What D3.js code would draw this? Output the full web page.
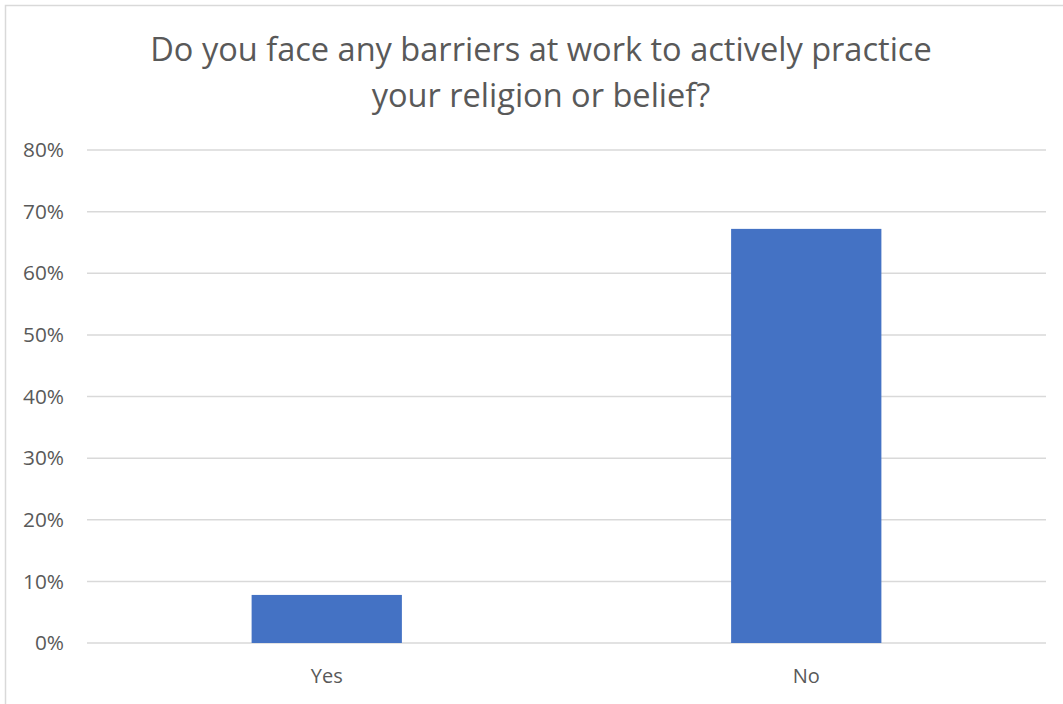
<!DOCTYPE html>
<html><head><meta charset="utf-8">
<script src="https://cdn.jsdelivr.net/npm/d3@7"></script>
<style>body{margin:0;background:#fff}svg{display:block}text{font-family:"Open Sans",sans-serif}</style>
</head><body>
<svg id="chart" width="1063" height="704"></svg>
<script>
const categories = ["Yes", "No"];
const values = [0.078, 0.672];
const yTicks = [0, 0.1, 0.2, 0.3, 0.4, 0.5, 0.6, 0.7, 0.8];
const titleLines = ["Do you face any barriers at work to actively practice", "your religion or belief?"];

(function(){
const svg = d3.select("#chart");
const W = 1063, H = 704;
const pL = 87, pR = 1046, pT = 150, pB = 643;
const FONT = "'Open Sans', sans-serif";

// size a font so that a sample string has a target width
function fitSize(sample, targetW, base) {
  const t = svg.append("text").attr("font-family", FONT).attr("font-size", base).text(sample);
  const w = t.node().getComputedTextLength();
  t.remove();
  return base * targetW / w;
}

// chart border
svg.append("rect").attr("x", 5.5).attr("y", 5.5).attr("width", W + 10).attr("height", H + 10)
  .attr("fill", "#fff").attr("stroke", "#d9d9d9").attr("stroke-width", 1.5);

const x = d3.scaleBand().domain(categories).range([pL, pR]).paddingInner(0.6866).paddingOuter(0.3433);
const xc = d3.scaleBand().domain(categories).range([pL, pR]).padding(0);
const y = d3.scaleLinear().domain([0, 0.8]).range([pB, pT]);

// gridlines
svg.append("g").selectAll("line").data(yTicks).join("line")
  .attr("x1", pL).attr("x2", pR)
  .attr("y1", d => y(d)).attr("y2", d => y(d))
  .attr("stroke", "#d9d9d9").attr("stroke-width", 1.5);

const tickSize = fitSize("80%", 41, 20);
const catSize = fitSize("Yes", 32, 20);
const titleSize = fitSize(titleLines[0], 782, 30);

// y axis labels
const yAxis = d3.axisLeft(y).tickValues(yTicks).tickFormat(d3.format(".0%")).tickSize(0).tickPadding(0);
const ga = svg.append("g").attr("transform", `translate(${64},0)`).call(yAxis);
ga.select(".domain").remove();
ga.selectAll("text").attr("font-size", tickSize).attr("fill", "#595959").attr("font-family", FONT);

// bars
svg.append("g").selectAll("rect").data(categories).join("rect")
  .attr("x", d => x(d)).attr("width", x.bandwidth())
  .attr("y", (d, i) => y(values[i])).attr("height", (d, i) => y(0) - y(values[i]))
  .attr("fill", "#4472c4");

// x axis labels
const xAxis = d3.axisBottom(xc).tickSize(0).tickPadding(0);
const gx = svg.append("g").attr("transform", `translate(0,${683})`).call(xAxis);
gx.select(".domain").remove();
gx.selectAll("text").attr("font-size", catSize).attr("fill", "#595959").attr("font-family", FONT)
  .attr("dy", null).attr("y", 0);

// title
svg.append("g").selectAll("text").data(titleLines).join("text")
  .attr("x", 541).attr("y", (d, i) => 61 + i * 46)
  .attr("text-anchor", "middle").attr("font-size", titleSize).attr("fill", "#595959").attr("font-family", FONT)
  .text(d => d);
})();
</script>
</body></html>
